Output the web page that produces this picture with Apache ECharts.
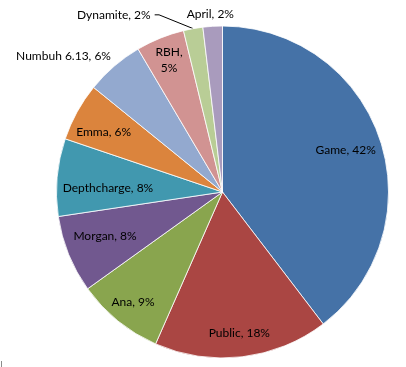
<!DOCTYPE html>
<html><head><meta charset="utf-8">
<script src="https://cdn.jsdelivr.net/npm/echarts@6/dist/echarts.min.js"></script>
<style>html,body{margin:0;padding:0;background:#fff}#c{width:406px;height:367px}</style>
</head><body><div id="c"></div>
<script>
const categories = ['Game','Public','Ana','Morgan','Depthcharge','Emma','Numbuh 6.13','RBH','Dynamite','April'];
const values = [42,18,9,8,8,6,6,5,2,2];
const colors = ['#4572A7','#AA4643','#89A54E','#71588F','#4198AF','#DB843D','#93A9CF','#D19392','#B9CD96','#A99BBD'];

const CX = 222.5, CY = 192, R = 166;
const textStyle = {color:'#000', fontFamily:'Lato, "Liberation Sans", sans-serif', fontSize:12};
const fmt = p => p.name === 'RBH' ? p.name + ',\n' + p.value + '%' : p.name + ', ' + p.value + '%';

// outside label settings
const outside = {
  'Numbuh 6.13': {label:{show:true, position:'outside', distanceToLabelLine:-6}, labelLine:{show:false, length:14, length2:0}},
  'Dynamite': {label:{show:true, position:'outside', distanceToLabelLine:4}, labelLine:{show:true, length:14, length2:36, minTurnAngle:158, maxSurfaceAngle:180, lineStyle:{color:'#000', width:1}}},
  'April': {label:{show:true, position:'outside', distanceToLabelLine:-22}, labelLine:{show:false, length:12, length2:0}}
};
// inside label radius groups (px from centre)
const groups = [
  {r:130, names:['Game','Morgan','Emma']},
  {r:142, names:['Public','Ana','RBH']},
  {r:115, names:['Depthcharge']}
];
// small nudges of inside labels (best-fit look)
const nudges = {'Depthcharge':[0,6], 'Emma':[-5,3], 'Morgan':[3,-5]};

const series = [{
  type:'pie', center:[CX, CY], radius:R, startAngle:90, clockwise:true,
  avoidLabelOverlap:false, silent:true,
  itemStyle:{borderColor:'#fff', borderWidth:0.8},
  label:Object.assign({show:false, formatter:fmt, lineHeight:16}, textStyle),
  labelLine:{show:false},
  emphasis:{disabled:true},
  data: categories.map((n,i)=>Object.assign({name:n, value:values[i], itemStyle:{color:colors[i]}}, outside[n] || {}))
}];
groups.forEach(g => {
  series.push({
    type:'pie', center:[CX, CY], radius:2*(g.r-3), startAngle:90, clockwise:true,
    avoidLabelOverlap:false, silent:true, z:5,
    itemStyle:{color:'rgba(0,0,0,0)', borderWidth:0},
    label:Object.assign({show:false, position:'inside', formatter:fmt, lineHeight:16}, textStyle),
    labelLine:{show:false},
    labelLayout: p => {
      const d = nudges[categories[p.dataIndex]];
      return d ? {dx:d[0], dy:d[1]} : {};
    },
    emphasis:{disabled:true},
    data: categories.map((n,i)=>({name:n, value:values[i], label:{show:g.names.includes(n)}}))
  });
});

const chart = echarts.init(document.getElementById('c'));
chart.setOption({
  animation:false, backgroundColor:'#fff', series,
  graphic:[{type:'rect', shape:{x:1, y:361, width:1, height:6}, style:{fill:'#8c8c8c'}, silent:true}]
});
</script></body></html>
